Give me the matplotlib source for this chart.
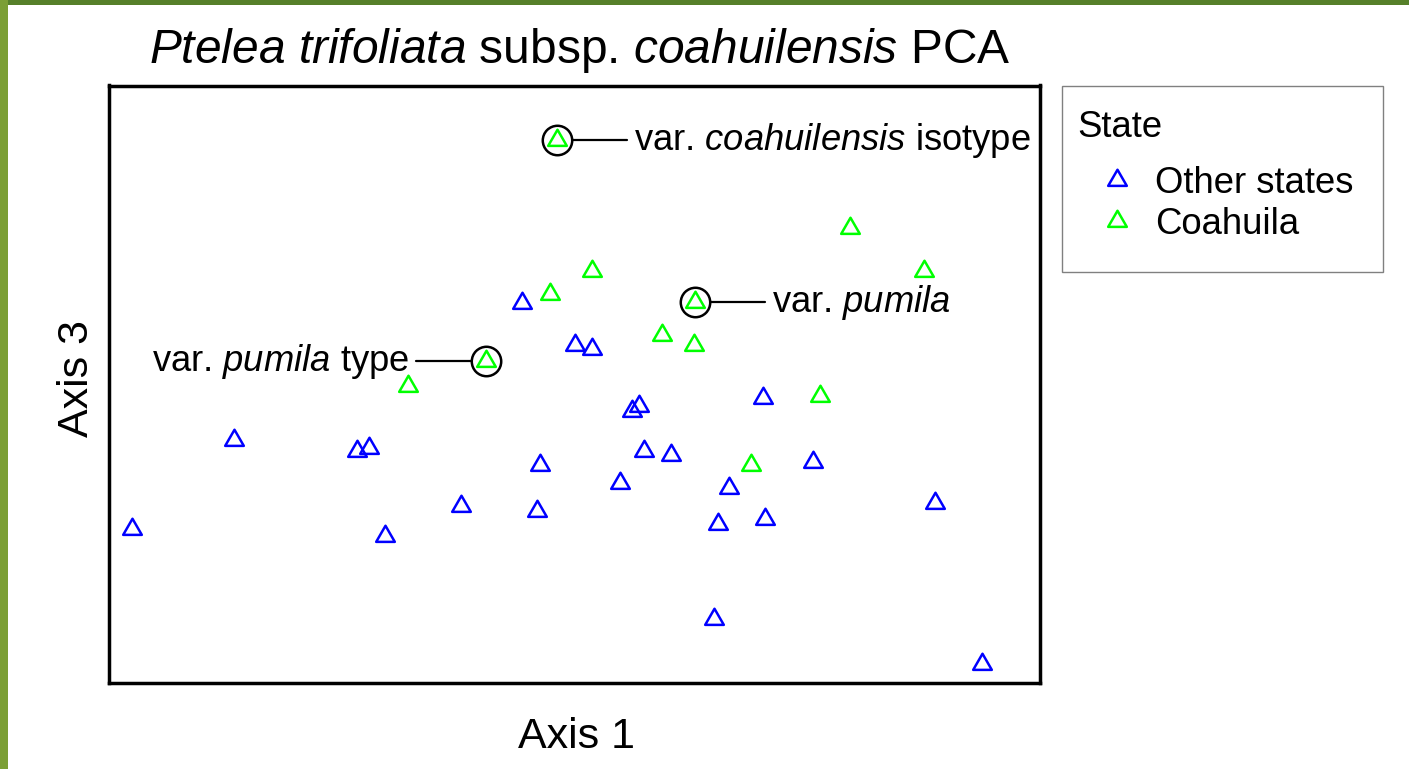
import matplotlib
matplotlib.use("Agg")
import matplotlib.pyplot as plt
from matplotlib.path import Path
from matplotlib.patches import Rectangle

plt.rcParams['font.family'] = ['Liberation Sans', 'DejaVu Sans']
plt.rcParams['mathtext.fontset'] = 'custom'
plt.rcParams['mathtext.rm'] = 'Liberation Sans'
plt.rcParams['mathtext.it'] = 'Liberation Sans:italic'

# PCA scores (axis 1, axis 3)
other_x = [-4.43, -3.41, -2.18, -2.06, -1.90, -1.14, -0.53, -0.38, -0.35, 0.00, 0.17, 0.45,
           0.57, 0.64, 0.69, 0.96, 1.39, 1.43, 1.54, 1.88, 1.90, 2.38, 3.60, 4.07]
other_y = [-1.29, -0.40, -0.51, -0.48, -1.36, -1.06, 0.97, -1.11, -0.65, 0.55, 0.51, -0.83,
           -0.11, -0.06, -0.51, -0.55, -2.19, -1.24, -0.88, 0.02, -1.19, -0.62, -1.03, -2.64]
coah_x = [-0.18, -0.89, -1.67, -0.25, 0.17, 0.87, 1.20, 1.19, 1.76, 2.45, 2.75, 3.49]
coah_y = [2.60, 0.39, 0.14, 1.06, 1.29, 0.65, 0.98, 0.55, -0.65, 0.04, 1.72, 1.29]

# labelled specimens: (index in coahuila list, label, side)
labelled = [(0, r'var. $\mathit{coahuilensis}$ isotype', 'right'),
            (6, r'var. $\mathit{pumila}$', 'right'),
            (1, r'var. $\mathit{pumila}$ type', 'left')]

W, H = 1409, 769
fig = plt.figure(figsize=(W / 100, H / 100), dpi=100, facecolor='#7b9f35')
# white page over the green background
fig.patches.append(Rectangle((8 / W, 0), 1, 1 - 5 / H, transform=fig.transFigure,
                             facecolor='white', edgecolor='none', zorder=-10))
fig.patches.append(Rectangle((8 / W, 1 - 5 / H), 1, 5 / H, transform=fig.transFigure,
                             facecolor='#56802a', edgecolor='none', zorder=-10))
# legend frame
fig.patches.append(Rectangle((1062 / W, 1 - 272 / H), (1383 - 1062) / W, (272 - 86) / H,
                             transform=fig.transFigure, facecolor='white',
                             edgecolor='#808080', lw=1, zorder=-5))

ax = fig.add_axes([109 / W, 1 - 683 / H, (1040 - 109) / W, (683 - 85.5) / H])
ax.set_xlim(-4.66, 4.65)
ax.set_ylim(-2.83, 3.145)
ax.set_xticks([])
ax.set_yticks([])
for s in ax.spines.values():
    s.set_linewidth(2.5)

tri = Path([(0, 1), (-0.866, -0.5), (0.866, -0.5), (0, 1)],
           [Path.MOVETO, Path.LINETO, Path.LINETO, Path.CLOSEPOLY])

h1, = ax.plot(other_x, other_y, ls='none', marker=tri, ms=15.5, mfc='none',
              mec='#0000ff', mew=1.8, label='Other states')
h2, = ax.plot(coah_x, coah_y, ls='none', marker=tri, ms=15.5, mfc='none',
              mec='#00ff00', mew=1.8, label='Coahuila')

for i, lab, side in labelled:
    x, y = coah_x[i], coah_y[i]
    ax.plot(x, y, marker='o', ms=21.2, mfc='none', mec='black', mew=1.8)
    sgn = 1 if side == 'right' else -1
    ax.annotate('', xy=(x, y), xytext=(sgn * 70 * 0.72, 0), textcoords='offset points',
                arrowprops=dict(arrowstyle='-', shrinkA=0, shrinkB=15 * 0.72, lw=1.6, color='black'))
    ax.annotate(lab, xy=(x, y), xytext=(sgn * 77 * 0.72, -10 * 0.72), textcoords='offset points',
                ha='left' if side == 'right' else 'right', va='baseline', fontsize=26.2)

fig.text(580 / W, 1 - 63 / H, r'$\mathit{Ptelea}$ $\mathit{trifoliata}$ subsp. $\mathit{coahuilensis}$ PCA',
         ha='center', va='baseline', fontsize=34.5)
fig.text(576.5 / W, 1 - 748 / H, 'Axis 1', ha='center', va='baseline', fontsize=31)
fig.text(97 / W, 1 - 378.5 / H, 'Axis 3', rotation=90, ha='right', va='center', fontsize=31)

leg = ax.legend(handles=[h1, h2], title='State', loc='upper left',
                bbox_to_anchor=(1077 / W, 1 - 110.4 / H), bbox_transform=fig.transFigure,
                frameon=False, borderpad=0, borderaxespad=0, fontsize=26.3, title_fontsize=26.3,
                alignment='left', handlelength=2.19, handletextpad=-0.06, labelspacing=0.15,
                numpoints=1)
leg._legend_box.sep = 14.9

fig.savefig('out.png', dpi=100, facecolor=fig.get_facecolor())
